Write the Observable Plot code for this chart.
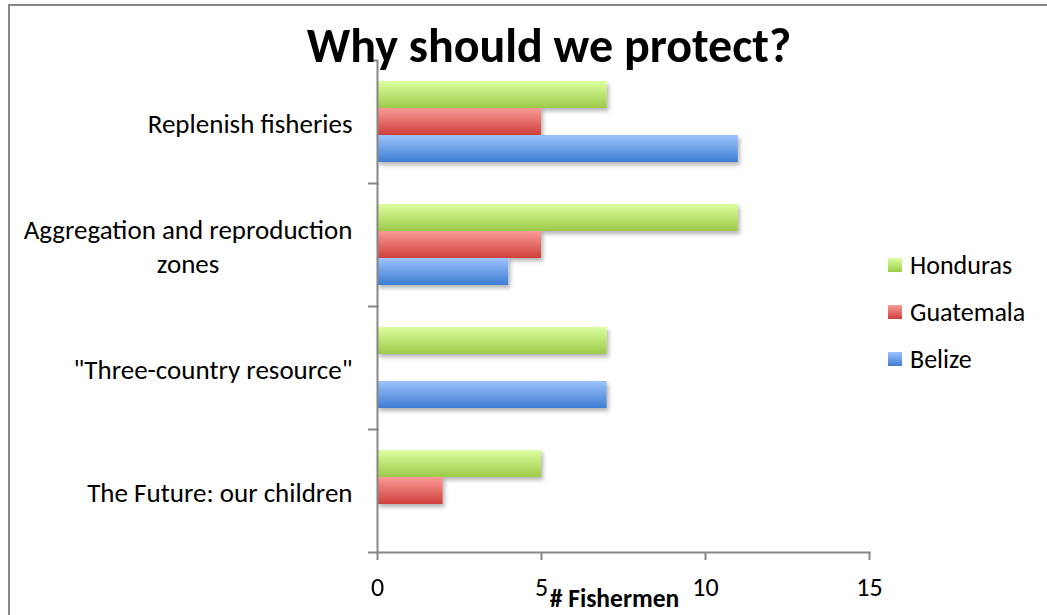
<!DOCTYPE html>
<html>
<head>
<meta charset="utf-8">
<script src="https://cdn.jsdelivr.net/npm/d3@7"></script>
<script src="https://cdn.jsdelivr.net/npm/@observablehq/plot@0.6"></script>
<style>
  body { margin: 0; background: #fff; }
  #chart { position: relative; width: 1047px; height: 615px; overflow: hidden;
           font-family: Carlito, Calibri, Lato, sans-serif; color: #000; }
  #chart svg { position: absolute; left: 0; top: 0; }
  #border { position: absolute; left: 8px; top: 4px; right: -10px; bottom: -10px;
            border-left: 2px solid #878787; border-top: 2px solid #878787; }
  #title { position: absolute; top: 17px; left: 549px; transform: translateX(-50%);
           font-weight: bold; font-size: 48px; line-height: 1.2; white-space: nowrap; }
  #legend { position: absolute; left: 888px; top: 241px; }
  #legend .item { display: flex; align-items: center; height: 47px; font-size: 26px; }
  #legend .sw { width: 14px; height: 14px; margin-right: 8px; }
</style>
</head>
<body>
<div id="chart"><div id="border"></div></div>
<script>
// Survey answers: number of fishermen per reason, by country
const categories = [
  "Replenish fisheries",
  "Aggregation and reproduction zones",
  "\"Three-country resource\"",
  "The Future: our children"
];
const categoryLines = [
  ["Replenish fisheries"],
  ["Aggregation and reproduction", "zones"],
  ["\"Three-country resource\""],
  ["The Future: our children"]
];
const countries = ["Honduras", "Guatemala", "Belize"];
const honduras  = [7, 11, 7, 5];
const guatemala = [5, 5, 0, 2];
const belize    = [11, 4, 7, 0];
const xTicks = [0, 5, 10, 15];
const titleText = "Why should we protect?";
const xLabel = "# Fishermen";

// Glossy fills: light top, saturated bottom
const gradients = {
  Honduras:  ["#dcffa0", "#9cca48"],
  Guatemala: ["#fb9b98", "#cf3f3b"],
  Belize:    ["#9dc3fc", "#3d7dd3"]
};
const gradId = s => "grad-" + s.toLowerCase();

const valuesBySeries = [honduras, guatemala, belize];
const rows = categories.flatMap((c, i) =>
  countries.map((s, j) => ({category: c, country: s, value: valuesBySeries[j][i]})));

const W = 1047, H = 615;
const margin = {left: 377, right: 178, top: 60, bottom: 63};
const band = (H - margin.top - margin.bottom) / categories.length;
const fontFamily = "Carlito, Calibri, Lato, sans-serif";
const labelSize = 27;
const axisGray = "#878787";

// measure label lines so each wrapped block is centred and right-aligned against the axis
const ctx = document.createElement("canvas").getContext("2d");
ctx.font = `${labelSize}px ${fontFamily}`;
const blockWidth = lines => Math.max(...lines.map(l => ctx.measureText(l).width));
const labelGap = 25;

const labelMarks = categories.map((c, i) =>
  Plot.text([c], {
    fy: d => d,
    frameAnchor: "left",
    text: () => categoryLines[i].join("\n"),
    textAnchor: "middle",
    lineAnchor: "middle",
    lineHeight: 1.27,
    fontSize: labelSize,
    fill: "#000",
    dx: -(labelGap + blockWidth(categoryLines[i]) / 2)
  }));

const svg = Plot.plot({
  width: W, height: H,
  marginLeft: margin.left, marginRight: margin.right,
  marginTop: margin.top, marginBottom: margin.bottom,
  style: {fontFamily, fontSize: "22px", color: "#000", background: "transparent", overflow: "visible"},
  x: {domain: [0, 15], label: null},
  y: {domain: countries, paddingInner: 0, paddingOuter: 0.72, axis: null},
  fy: {domain: categories, padding: 0, axis: null, label: null},
  color: {domain: countries, range: countries.map(s => `url(#${gradId(s)})`)},
  marks: [
    Plot.barX(rows, {x: "value", y: "country", fy: "category", fill: "country"}),
    Plot.frame({anchor: "left", stroke: axisGray, strokeWidth: 2}),
    Plot.frame({anchor: "bottom", facet: "super", stroke: axisGray, strokeWidth: 2}),
    Plot.axisFy({anchor: "left", tickSize: 9, dy: band / 2, tickFormat: () => "", label: null,
                 stroke: axisGray, strokeWidth: 2}),
    Plot.axisFy({anchor: "left", ticks: [categories[0]], tickSize: 9, dy: -band / 2, label: null,
                 tickFormat: () => "", stroke: axisGray, strokeWidth: 2}),
    Plot.axisX({anchor: "bottom", ticks: xTicks, tickSize: 8, tickPadding: 17,
                stroke: axisGray, strokeWidth: 2, fill: "#000", fontSize: 26, label: null}),
    Plot.text([xLabel], {frameAnchor: "bottom", facet: "super", text: d => d,
                         fontWeight: "bold", fontSize: 25.5, dx: -9, dy: 54, fill: "#000"}),
    ...labelMarks
  ]
});

// gradient and soft drop shadow definitions
const defs = d3.select(svg).insert("defs", ":first-child");
for (const s of countries) {
  const g = defs.append("linearGradient").attr("id", gradId(s))
    .attr("x1", 0).attr("y1", 0).attr("x2", 0).attr("y2", 1);
  g.append("stop").attr("offset", "0%").attr("stop-color", gradients[s][0]);
  g.append("stop").attr("offset", "100%").attr("stop-color", gradients[s][1]);
}
const f = defs.append("filter").attr("id", "bar-shadow")
  .attr("x", "-5%").attr("y", "-20%").attr("width", "115%").attr("height", "160%");
f.append("feDropShadow").attr("dx", 2).attr("dy", 3).attr("stdDeviation", 2)
  .attr("flood-color", "#000").attr("flood-opacity", 0.3);
d3.select(svg).selectAll('g[aria-label="bar"]').attr("filter", "url(#bar-shadow)");

const chart = document.getElementById("chart");
chart.appendChild(svg);

const title = document.createElement("div");
title.id = "title";
title.textContent = titleText;
chart.appendChild(title);

const legend = document.createElement("div");
legend.id = "legend";
for (const s of countries) {
  const item = document.createElement("div");
  item.className = "item";
  const sw = document.createElement("span");
  sw.className = "sw";
  sw.style.background = `linear-gradient(${gradients[s][0]}, ${gradients[s][1]})`;
  item.appendChild(sw);
  item.appendChild(document.createTextNode(s));
  legend.appendChild(item);
}
chart.appendChild(legend);
</script>
</body>
</html>
